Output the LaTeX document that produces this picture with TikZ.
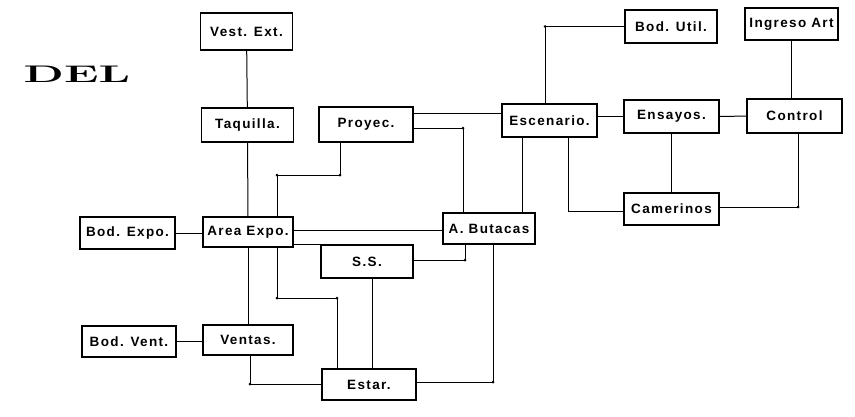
\documentclass[tikz,border=0pt]{standalone}
\usepackage{fontspec}
\newfontfamily\boxfont[LetterSpace=10]{Liberation Sans}
\usetikzlibrary{calc}

\begin{document}
\begin{tikzpicture}[
        x=1pt, y=-1pt,
        font=\boxfont\fontsize{13.5}{14}\selectfont\bfseries,
        % Define styles for the nodes
        room/.style={rectangle, draw=black, line width=1.2pt, minimum width=92pt, minimum height=33pt, inner sep=1pt, align=center},
        link/.style={line width=1pt},
        bend dot/.style={circle, fill=black, inner sep=0pt, minimum size=3pt}
    ]
        \useasboundingbox (0,0) rectangle (855,416);

        % --- Title ---
        \node (title) at (77,74) {\rmfamily\bfseries\scalebox{1.95}[1]{\fontsize{24}{24}\selectfont DEL}};

        % --- Nodes ---
        \node[room, minimum height=37pt] (vest) at (246.5,31.5) {Vest. Ext.};
        \node[room, minimum height=34pt] (taq) at (247.5,125) {Taquilla.};
        \node[room, minimum width=94pt, minimum height=35pt] (proy) at (366,124.5) {Proyec.};
        \node[room, minimum width=95pt] (esc) at (549.5,120.5) {Escenario.};
        \node[room] (util) at (671,26.5) {Bod. Util.};
        \node[room, minimum width=93pt, minimum height=32pt] (ingr) at (791.5,24) {Ingreso Art};
        \node[room, minimum width=95pt] (ens) at (671.5,116.5) {Ensayos.};
        \node[room, minimum width=95pt, minimum height=34pt] (ctrl) at (794.5,116) {Control};
        \node[room, minimum width=95pt, minimum height=32pt] (cam) at (671.5,209) {Camerinos};
        \node[room, minimum width=92pt, minimum height=31pt] (but) at (489,228.5) {A. Butacas};
        \node[room, minimum width=95pt, minimum height=32pt] (bexpo) at (127.5,233) {Bod. Expo.};
        \node[room, minimum width=90pt, minimum height=30pt] (aexpo) at (248,232) {Area Expo.};
        \node[room, minimum width=92pt] (ss) at (367,261.5) {S.S.};
        \node[room, minimum width=94pt, minimum height=31pt] (bvent) at (129,341.5) {Bod. Vent.};
        \node[room, minimum width=90pt, minimum height=30pt] (vent) at (248,340) {Ventas.};
        \node[room, minimum width=94pt, minimum height=31pt] (estar) at (369,384.5) {Estar.};

        % --- Bend points ---
        \coordinate (lvl1) at (0,113);
        \coordinate (lvl2) at (0,230);
        \coordinate (pb1) at (340,175);
        \coordinate (pb2) at (277,175);
        \coordinate (pb3) at (463,128);
        \coordinate (ub1) at (545,26.5);
        \coordinate (eb1) at (522,0);
        \coordinate (cb1) at (568,211);
        \coordinate (cb2) at (798,207);
        \coordinate (sb1) at (465,260);
        \coordinate (sb2) at (372,0);
        \coordinate (qb1) at (277,298);
        \coordinate (qb2) at (337,298);
        \coordinate (tb1) at (250,384);
        \coordinate (tb2) at (493,382);

        % --- Edges ---
        \draw[link] (vest) -- (taq);
        \draw[link] (taq) -- (aexpo);
        \draw[link] (aexpo) -- (vent);
        \draw[link] (bexpo.east) -- (bexpo.east -| aexpo.west);
        \draw[link] (bvent.east) -- (bvent.east -| vent.west);

        \draw[link] (proy.south -| pb1) -- (pb1) -- (pb2) -- (aexpo.north -| pb2);
        \draw[link] (proy.east |- lvl1) -- (esc.west |- lvl1);
        \draw[link] (proy.east |- pb3) -- (pb3) -- (but.north -| pb3);

        \draw[link] (util.west) -- (ub1) -- (esc.north -| ub1);
        \draw[link] (ingr.south) -- (ingr.south |- ctrl.north);
        \draw[link] (ens.west) -- (ens.west -| esc.east);
        \draw[link] (ens) -- (ctrl);
        \draw[link] (ens) -- (cam);
        \draw[link] (esc.south -| eb1) -- (but.north -| eb1);
        \draw[link] (esc.south -| cb1) -- (cb1) -- (cam.west |- cb1);
        \draw[link] (ctrl.south -| cb2) -- (cb2) -- (cam.east |- cb2);

        \draw[link] (aexpo.east |- lvl2) -- (but.west |- lvl2);
        \draw[link] (aexpo.east |- ss.north) -- (ss.north west);
        \draw[link] (ss.east |- sb1) -- (sb1) -- (but.south -| sb1);
        \draw[link] (ss.south -| sb2) -- (estar.north -| sb2);
        \draw[link] (aexpo.south -| qb1) -- (qb1) -- (qb2) -- (estar.north -| qb2);
        \draw[link] (vent.south -| tb1) -- (tb1) -- (estar.west |- tb1);
        \draw[link] (estar.east |- tb2) -- (tb2) -- (but.south -| tb2);

        % dots at the bends
        \foreach \b in {pb1, pb2, pb3, ub1, cb2, sb1, qb1, qb2, tb1, tb2}
            \node[bend dot] at (\b) {};

    \end{tikzpicture}
\end{document}
